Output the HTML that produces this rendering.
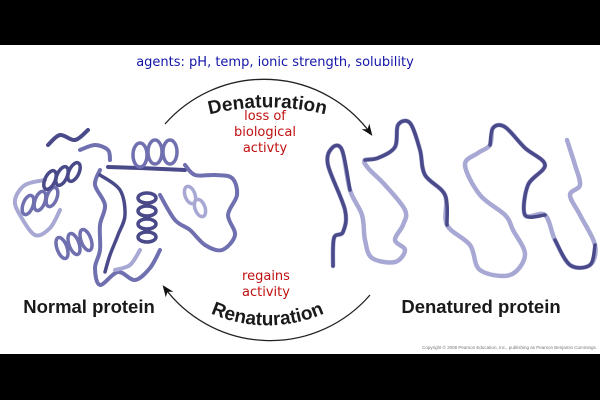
<!DOCTYPE html>
<html><head><meta charset="utf-8"><style>
html,body{margin:0;padding:0;background:#000;}
#w{position:relative;width:600px;height:400px;background:#000;overflow:hidden;}
#wh{position:absolute;left:0;top:45px;width:600px;height:309px;background:#fff;}
svg{position:absolute;left:0;top:0;}
</style></head><body><div id="w"><div id="wh"></div>
<svg width="600" height="400" viewBox="0 0 600 400" xmlns="http://www.w3.org/2000/svg">
<defs>
<marker id="ah" viewBox="0 0 10 10" refX="8" refY="5" markerWidth="9" markerHeight="9" orient="auto"><path d="M0,1 L10,5 L0,9 L3,5 z" fill="#111"/></marker>
<path id="tp" d="M185,122 A240,240 0 0 1 350,122"/>
<path id="bp" d="M200,308 A140,140 0 0 0 335,308"/>
</defs>
<text x="275" y="66" text-anchor="middle" font-family="DejaVu Sans, sans-serif" font-size="13" fill="#1414a8">agents:  pH, temp, ionic strength, solubility</text>
<path d="M165,124 A132,132 0 0 1 371,134" fill="none" stroke="#222" stroke-width="1.3" marker-end="url(#ah)"/>
<path d="M370,295 A132,132 0 0 1 164,287" fill="none" stroke="#222" stroke-width="1.3" marker-end="url(#ah)"/>
<text font-family="Liberation Sans, sans-serif" font-weight="bold" font-size="19" fill="#1a1a1a"><textPath href="#tp" startOffset="50%" text-anchor="middle">Denaturation</textPath></text>
<text font-family="Liberation Sans, sans-serif" font-weight="bold" font-size="19" fill="#1a1a1a"><textPath href="#bp" startOffset="50%" text-anchor="middle">Renaturation</textPath></text>
<g font-family="DejaVu Sans, sans-serif" font-size="13" fill="#c01010" text-anchor="middle">
<text x="265" y="120">loss of</text><text x="265" y="136">biological</text><text x="265" y="152">activty</text>
<text x="266" y="280">regains</text><text x="266" y="296">activity</text></g>
<text x="89" y="313" text-anchor="middle" font-family="Liberation Sans, sans-serif" font-weight="bold" font-size="18.5" fill="#1a1a1a">Normal protein</text>
<text x="481" y="313" text-anchor="middle" font-family="Liberation Sans, sans-serif" font-weight="bold" font-size="18.5" fill="#1a1a1a">Denatured protein</text>
<text x="597" y="349" text-anchor="end" font-family="Liberation Sans, sans-serif" font-size="4.5" fill="#777">Copyright © 2008 Pearson Education, Inc., publishing as Pearson Benjamin Cummings.</text>
<g id="prot" fill="none" stroke-linecap="round" stroke-linejoin="round"></g>
</svg></div>
<script>
function sm(p){var d="M"+p[0][0]+","+p[0][1];for(var i=0;i<p.length-1;i++){var a=p[i-1]||p[i],b=p[i],c=p[i+1],e=p[i+2]||c;d+=" C"+(b[0]+(c[0]-a[0])/6).toFixed(1)+","+(b[1]+(c[1]-a[1])/6).toFixed(1)+" "+(c[0]-(e[0]-b[0])/6).toFixed(1)+","+(c[1]-(e[1]-b[1])/6).toFixed(1)+" "+c[0]+","+c[1];}return d;}
var g=document.getElementById("prot"),ns="http://www.w3.org/2000/svg";
function P(pts,col,w){var e=document.createElementNS(ns,"path");e.setAttribute("d",sm(pts));e.setAttribute("stroke",col);e.setAttribute("stroke-width",w);g.appendChild(e);}
function E(cx,cy,rx,ry,rot,col){var e=document.createElementNS(ns,"ellipse");e.setAttribute("cx",cx);e.setAttribute("cy",cy);e.setAttribute("rx",rx);e.setAttribute("ry",ry);e.setAttribute("transform","rotate("+rot+" "+cx+" "+cy+")");e.setAttribute("stroke",col);e.setAttribute("stroke-width",3.5);e.setAttribute("fill","none");g.appendChild(e);}
var d1="#4a4a8a",l1="#a8a8d4",m1="#7070b0";
var dn=[[333,266],[334,238],[343,232],[345,210],[328,165],[332,148],[342,150],[350,190],[362,215],[365,240],[372,258],[395,262],[405,250],[395,240],[403,225],[405,210],[385,185],[368,168],[365,160],[378,158],[395,147],[398,125],[410,123],[420,150],[425,175],[445,195],[447,225],[470,245],[480,270],[510,275],[525,255],[513,230],[505,215],[480,195],[465,165],[478,153],[490,145],[493,128],[505,127],[525,148],[545,165],[528,185],[525,215],[545,215],[555,240],[570,265],[590,265],[595,245],[580,215],[570,195],[580,185],[575,165],[567,140]];
P(dn,l1,4.5);P(dn.slice(0,8),d1,3.5);P(dn.slice(18,27),d1,3.5);P(dn.slice(36,44),d1,3.5);P(dn.slice(44,48),d1,3.5);
P([[88,130],[75,140],[60,135],[48,145]],d1,4);
P([[108,167],[140,168],[185,170]],d1,4);
P([[80,150],[95,145],[108,150],[110,160]],m1,4);
P([[185,165],[195,175],[215,175],[232,178],[237,195],[228,215],[235,235],[222,250],[205,245],[190,230],[175,220],[160,195]],m1,4);
P([[160,250],[150,268],[135,280],[118,272],[100,285],[95,268],[100,250],[100,225],[105,205],[95,185],[100,170]],m1,4);
P([[60,210],[50,228],[35,235],[20,215],[15,200],[25,185],[45,180]],l1,4);
P([[100,175],[120,190],[125,215],[118,235],[110,255],[105,272]],d1,3.5);
P([[140,250],[130,265],[115,270]],l1,4);
[[28,205],[40,201],[52,197]].forEach(function(c){E(c[0],c[1],5,10,20,m1);});
[[50,180],[62,176],[74,172]].forEach(function(c){E(c[0],c[1],5,10,25,d1);});
[[62,248],[74,244],[86,240]].forEach(function(c){E(c[0],c[1],5,11,-20,m1);});
[[147,198],[147,211],[147,224],[147,237]].forEach(function(c){E(c[0],c[1],9,5,0,d1);});
[[140,155],[155,152],[170,152]].forEach(function(c){E(c[0],c[1],7,12,0,m1);});
[[190,195],[200,208]].forEach(function(c){E(c[0],c[1],5,9,-20,l1);});
</script>
</body></html>
